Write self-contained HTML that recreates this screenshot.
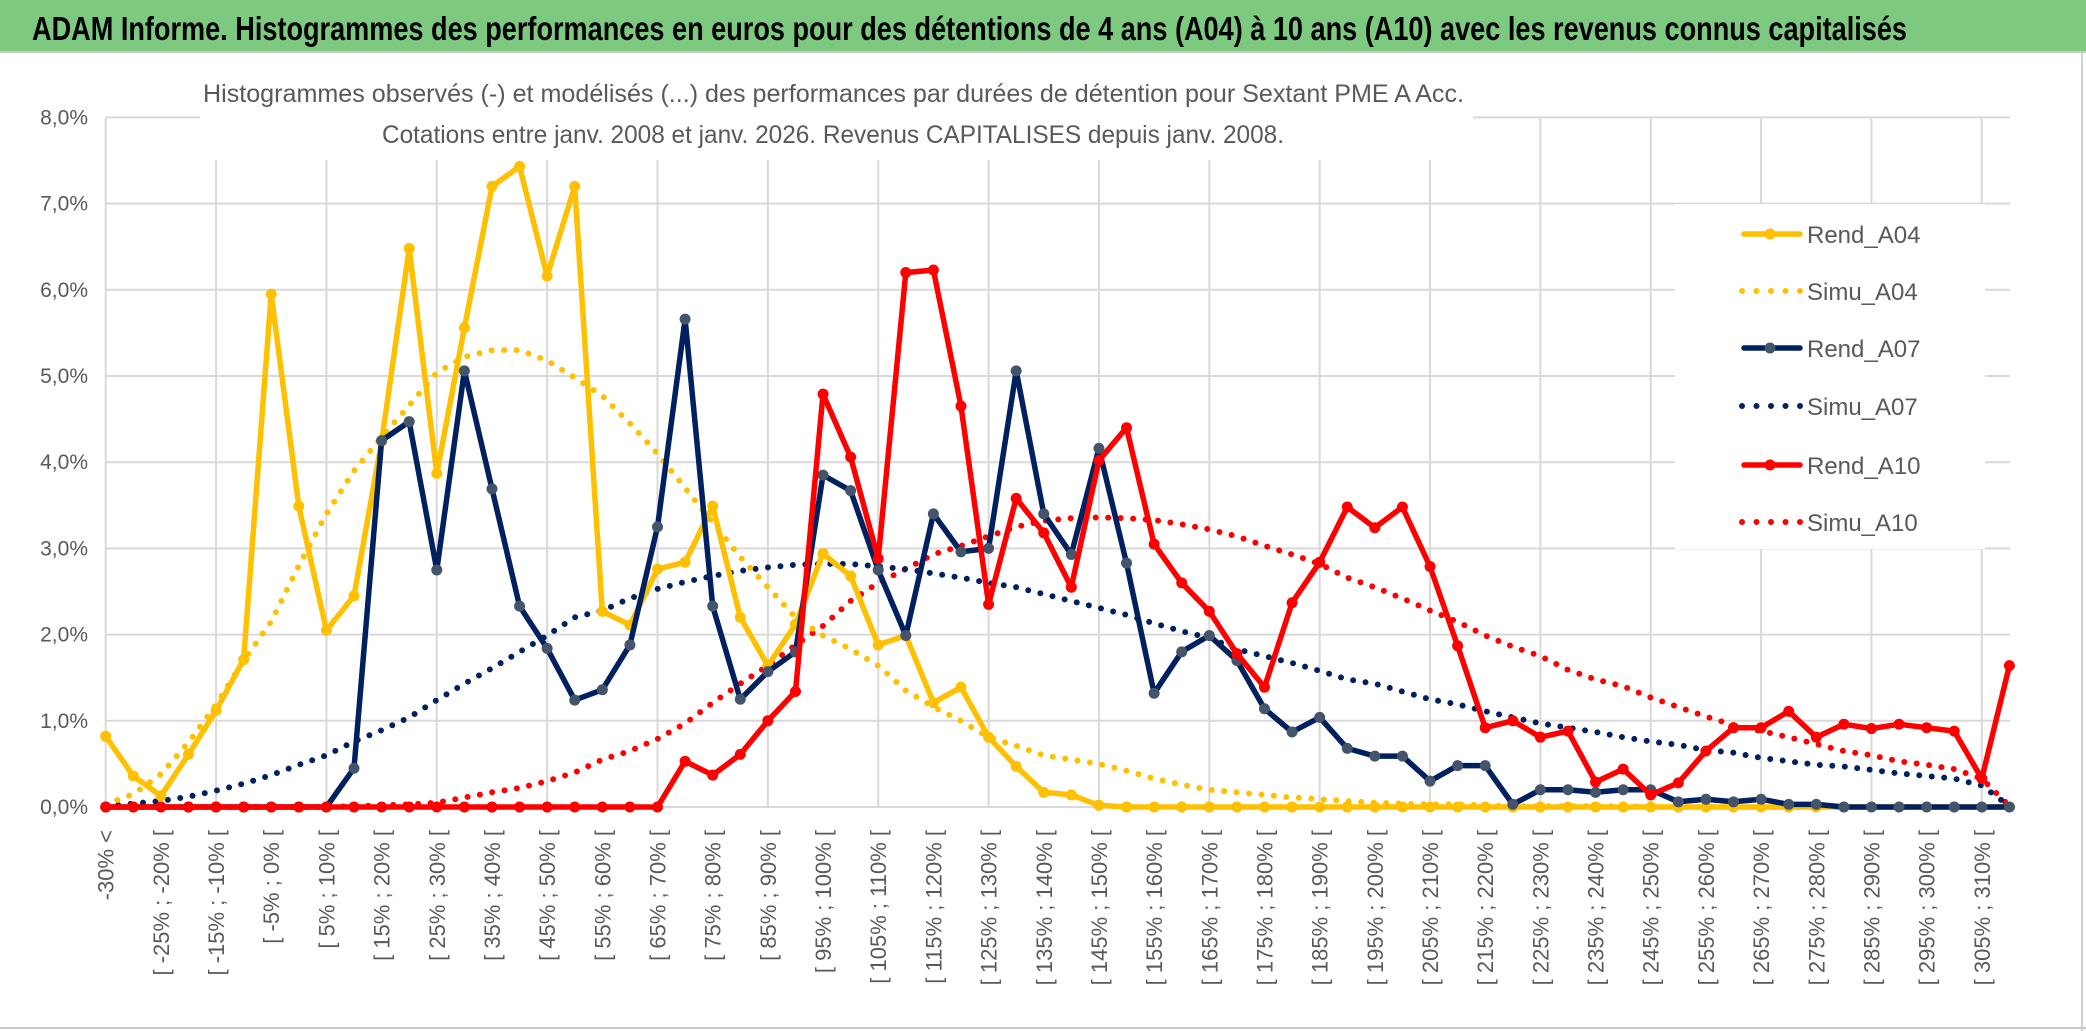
<!DOCTYPE html>
<html><head><meta charset="utf-8"><style>
html,body{margin:0;padding:0;background:#fff;}
svg{display:block;font-family:"Liberation Sans",sans-serif;}
</style></head><body>
<svg id="chart" width="2086" height="1031" viewBox="0 0 2086 1031" xmlns="http://www.w3.org/2000/svg">
<rect x="0" y="0" width="2086" height="51" fill="#7dc97f"/>
<line x1="0" y1="52" x2="2086" y2="52" stroke="#c8c8c8" stroke-width="2"/>
<text x="32" y="40" font-size="33" font-weight="bold" fill="#000" textLength="1875" lengthAdjust="spacingAndGlyphs">ADAM Informe. Histogrammes des performances en euros pour des détentions de 4 ans (A04) à 10 ans (A10) avec les revenus connus capitalisés</text>
<line x1="2082" y1="52" x2="2082" y2="1031" stroke="#d0d0d0" stroke-width="2"/>
<line x1="0" y1="1028" x2="2086" y2="1028" stroke="#c8c8c8" stroke-width="2"/>
<g id="grid"></g>
<g id="series"></g>
<rect x="200" y="60" width="1273" height="100" fill="#fff"/>
<text x="203" y="102" font-size="25" fill="#595959" textLength="1261" lengthAdjust="spacingAndGlyphs">Histogrammes observés (-) et modélisés (...) des performances par durées de détention pour Sextant PME A Acc.</text>
<text x="382" y="143" font-size="25" fill="#595959" textLength="902" lengthAdjust="spacingAndGlyphs">Cotations entre janv. 2008 et janv. 2026. Revenus CAPITALISES depuis janv. 2008.</text>
<g id="yaxis"></g>
<g id="xaxis"></g>
<g id="legend"></g>
</svg>
<script>
const categories = ["-30% <"];
for (let v = -30; v < 320; v += 5) { if (categories.length < 70) categories.push("[ " + v + "% ; " + (v + 5) + "% ["); }
const yTicks = [0,1,2,3,4,5,6,7,8];
const yTickLabels = ["0,0%","1,0%","2,0%","3,0%","4,0%","5,0%","6,0%","7,0%","8,0%"];
const seriesNames = ["Rend_A04","Simu_A04","Rend_A07","Simu_A07","Rend_A10","Simu_A10"];
const rendA04 = [0.82,0.36,0.13,0.61,1.12,1.71,5.95,3.49,2.05,2.45,4.24,6.48,3.87,5.56,7.2,7.43,6.16,7.2,2.27,2.11,2.76,2.84,3.49,2.2,1.64,2.12,2.94,2.68,1.88,1.99,1.21,1.39,0.81,0.47,0.17,0.14,0.02,0,0,0,0,0,0,0,0,0,0,0,0,0,0,0,0,0,0,0,0,0,0,0,0,0,0,0,0,0,0,0,0,0];
const simuA04 = [0.03,0.15,0.38,0.75,1.19,1.7,2.15,2.8,3.4,3.9,4.29,4.66,5.04,5.22,5.3,5.3,5.18,4.98,4.77,4.45,4.1,3.7,3.3,2.9,2.55,2.2,1.99,1.83,1.64,1.35,1.16,1.0,0.81,0.71,0.6,0.55,0.5,0.42,0.33,0.26,0.2,0.17,0.14,0.11,0.09,0.07,0.05,0.04,0.03,0.03,0.02,0.01,0.01,0.01,0.01,0.01,0,0,0,0,0,0,0,0,0,0,0,0,0,0];
const rendA07 = [0,0,0,0,0,0,0,0,0,0.45,4.25,4.47,2.75,5.06,3.69,2.33,1.84,1.24,1.36,1.88,3.25,5.66,2.33,1.25,1.57,1.8,3.85,3.67,2.75,1.99,3.4,2.96,3.0,5.06,3.4,2.93,4.16,2.83,1.32,1.8,1.99,1.7,1.14,0.87,1.04,0.68,0.59,0.59,0.3,0.48,0.48,0.03,0.2,0.2,0.17,0.2,0.2,0.06,0.09,0.06,0.09,0.03,0.03,0,0,0,0,0,0,0];
const simuA07 = [0.01,0.04,0.07,0.12,0.19,0.27,0.37,0.49,0.6,0.76,0.89,1.04,1.24,1.43,1.61,1.8,1.99,2.2,2.28,2.42,2.53,2.61,2.68,2.74,2.78,2.81,2.82,2.82,2.79,2.76,2.71,2.66,2.6,2.55,2.47,2.39,2.31,2.23,2.13,2.04,1.96,1.83,1.75,1.67,1.58,1.48,1.43,1.34,1.25,1.19,1.11,1.04,0.97,0.92,0.87,0.81,0.76,0.72,0.66,0.63,0.57,0.53,0.49,0.47,0.43,0.39,0.36,0.33,0.25,0.01];
const rendA10 = [0,0,0,0,0,0,0,0,0,0,0,0,0,0,0,0,0,0,0,0,0,0.53,0.37,0.61,1.0,1.34,4.79,4.06,2.88,6.2,6.23,4.65,2.35,3.58,3.18,2.55,4.02,4.4,3.05,2.6,2.27,1.78,1.39,2.37,2.84,3.48,3.24,3.48,2.79,1.87,0.92,1.0,0.81,0.88,0.29,0.44,0.14,0.28,0.65,0.92,0.92,1.11,0.81,0.96,0.91,0.96,0.92,0.88,0.33,1.64];
const simuA10 = [0,0,0,0,0,0,0,0,0,0.01,0.02,0.03,0.05,0.11,0.17,0.22,0.3,0.4,0.55,0.65,0.79,0.97,1.21,1.43,1.64,1.88,2.1,2.39,2.6,2.76,2.93,3.03,3.14,3.25,3.32,3.35,3.36,3.35,3.33,3.28,3.22,3.14,3.03,2.93,2.82,2.66,2.55,2.42,2.28,2.15,1.99,1.86,1.75,1.59,1.48,1.4,1.27,1.16,1.05,0.95,0.88,0.81,0.73,0.65,0.6,0.53,0.49,0.44,0.33,0.01];

const NS = "http://www.w3.org/2000/svg";
const X0 = 105.7, DX = 27.59, Y0 = 807, DY = 86.2;
function xPos(i){ return X0 + i * DX; }
function yPos(v){ return Y0 - v * DY; }
function mk(tag, attrs, parent){ const e = document.createElementNS(NS, tag); for (const k in attrs) e.setAttribute(k, attrs[k]); parent.appendChild(e); return e; }

const grid = document.getElementById('grid');
yTicks.forEach((t, k) => {
  const l = mk('line', {x1: X0, x2: 2010, y1: yPos(t), y2: yPos(t), stroke: '#d9d9d9', 'stroke-width': 2}, grid);
  
  
});
for (let i = 0; i < categories.length; i += 4) {
  const l = mk('line', {x1: xPos(i), x2: xPos(i), y1: yPos(8), y2: Y0, stroke: '#d9d9d9', 'stroke-width': 2}, grid);
  
  
}

const ya = document.getElementById('yaxis');
yTicks.forEach((t, k) => {
  const tx = mk('text', {x: 88, y: yPos(t) + 7, 'text-anchor': 'end', 'font-size': 21, fill: '#595959'}, ya);
  
  
  tx.textContent = yTickLabels[k];
});
const xa = document.getElementById('xaxis');
categories.forEach((c, i) => {
  if (i % 2 !== 0) return;
  const x = xPos(i) + 8, y = 830;
  const tx = mk('text', {x: x, y: y, 'text-anchor': 'end', 'font-size': 22, fill: '#595959', transform: 'rotate(-90 ' + x + ' ' + y + ')'}, xa);
  
  
  tx.textContent = c;
});

const sg = document.getElementById('series');
function drawSeries(vals, color, dotted, markerColor, name){
  const g = mk('g', {}, sg);
  
  
  const pts = vals.map((v, i) => xPos(i).toFixed(1) + ',' + yPos(v).toFixed(1)).join(' ');
  const pl = mk('polyline', {points: pts, fill: 'none', stroke: color, 'stroke-width': dotted ? 6 : 5.5, 'stroke-linejoin': 'round', 'stroke-linecap': 'round'}, g);
  if (dotted) pl.setAttribute('stroke-dasharray', '0 12.5');
  
  
  if (!dotted) {
    vals.forEach((v, i) => {
      const c = mk('circle', {cx: xPos(i), cy: yPos(v), r: 5.5, fill: markerColor}, g);
      
      
    });
  }
}
drawSeries(simuA10, '#ff0000', true, null, 'simu-a10');
drawSeries(simuA07, '#002060', true, null, 'simu-a07');
drawSeries(simuA04, '#ffc000', true, null, 'simu-a04');
drawSeries(rendA04, '#ffc000', false, '#ffc000', 'rend-a04');
drawSeries(rendA07, '#002060', false, '#44546a', 'rend-a07');
drawSeries(rendA10, '#ff0000', false, '#ff0000', 'rend-a10');

const lg = document.getElementById('legend');
const lbg = mk('rect', {x: 1675, y: 204, width: 310, height: 345, fill: '#fff'}, lg);


const legColors = ['#ffc000','#ffc000','#002060','#002060','#ff0000','#ff0000'];
const legMarkers = ['#ffc000',null,'#44546a',null,'#ff0000',null];
const legY = [234, 291, 348, 406, 465, 522];
seriesNames.forEach((n, k) => {
  const g = mk('g', {}, lg);
  
  
  const y = legY[k];
  if (legMarkers[k]) {
    mk('line', {x1: 1744, x2: 1800, y1: y, y2: y, stroke: legColors[k], 'stroke-width': 5.5, 'stroke-linecap': 'round'}, g);
    mk('circle', {cx: 1770, cy: y, r: 5.5, fill: legMarkers[k]}, g);
  } else {
    mk('line', {x1: 1742, x2: 1802, y1: y, y2: y, stroke: legColors[k], 'stroke-width': 6, 'stroke-linecap': 'round', 'stroke-dasharray': '0 14.5'}, g);
  }
  const t = mk('text', {x: 1807, y: y + 9, 'font-size': 24, fill: '#595959'}, g);
  
  
  t.textContent = n;
});
</script>
</body></html>
